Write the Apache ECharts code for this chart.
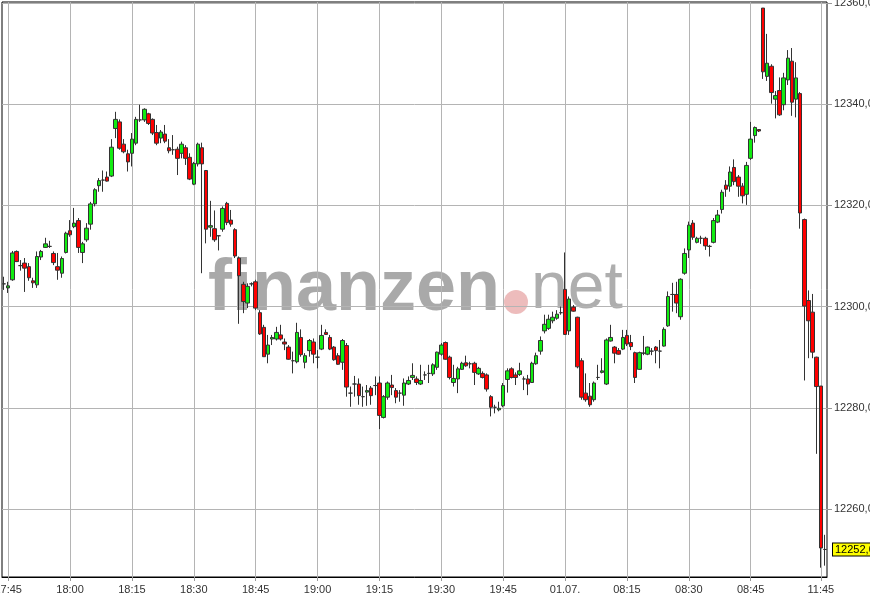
<!DOCTYPE html>
<html><head><meta charset="utf-8">
<script src="https://cdn.jsdelivr.net/npm/echarts@6/dist/echarts.min.js"></script>
<style>html,body{margin:0;padding:0;background:#fff}#c{width:870px;height:600px}</style>
</head><body><div id="c"></div>
<script>
// ---- data ----
const sessions = [['17:44', 136], ['08:00', 60], ['11:43', 4]];
const labelTimes = ['17:45','18:00','18:15','18:30','18:45','19:00','19:15','19:30','19:45','08:00','08:15','08:30','08:45','11:45'];
const labelText = {'08:00': '01.07.'};
const yTicks = [12260, 12280, 12300, 12320, 12340, 12360];
const lastPrice = 12252.0;

const opens = [
12304.5,12303.7,12305.3,12310.9,12308.1,12308.6,12307.9,12305.1,12304.3,12309.8,
12311.7,12311.9,12310.5,12307.9,12306.6,12310.7,12315.0,12315.8,12317.0,12310.7,
12313.2,12316.3,12320.3,12323.9,12325.0,12325.6,12325.8,12335.2,12336.5,12332.1,
12330.2,12330.3,12332.3,12336.9,12336.9,12338.1,12337.0,12334.4,12333.3,12334.1,
12331.4,12331.0,12331.1,12330.3,12331.4,12329.5,12324.2,12328.2,12331.4,12326.9,
12315.7,12315.4,12314.0,12315.3,12320.4,12317.1,12315.2,12309.6,12304.4,12300.7,
12304.5,12304.9,12298.8,12295.9,12290.6,12293.6,12293.6,12294.4,12293.0,12292.0,
12289.3,12289.1,12293.9,12289.0,12291.3,12293.0,12290.0,12291.6,12294.9,12293.9,
12292.0,12290.3,12289.0,12292.3,12282.9,12284.7,12284.7,12282.2,12283.1,12283.9,
12284.4,12284.9,12278.1,12282.1,12284.5,12283.4,12282.9,12282.5,12284.7,12286.0,
12285.7,12284.7,12286.5,12286.8,12286.7,12288.0,12290.6,12292.9,12290.0,12285.0,
12285.7,12287.6,12288.9,12288.7,12288.8,12286.7,12286.8,12286.5,12282.2,12280.1,
12279.6,12280.4,12285.6,12287.7,12286.5,12286.6,12285.7,12285.7,12285.0,12288.7,
12291.2,12295.2,12295.7,12297.2,12297.7,12298.8,12303.4,12295.2,12299.9,12297.9,
12289.3,12282.9,12282.3,12281.6,12286.0,12287.0,12284.7,12293.2,12292.0,12291.3,
12291.6,12294.3,12292.9,12290.9,12287.6,12290.8,12290.6,12291.2,12292.0,12291.2,
12292.2,12296.2,12302.4,12302.4,12298.0,12306.6,12311.2,12316.5,12312.7,12313.5,
12313.5,12311.9,12312.7,12316.7,12319.2,12324.0,12323.8,12327.5,12325.6,12323.8,
12322.2,12329.3,12333.8,12335.0,12359.0,12345.5,12347.5,12341.0,12342.7,12339.9,
12344.8,12348.5,12341.0,12342.1,12317.2,12301.2,12298.9,12290.0,12284.3,12252.0];

const closes = [
12304.5,12304.1,12310.6,12308.9,12308.1,12307.6,12305.7,12304.7,12309.9,12310.9,
12312.4,12311.9,12308.7,12307.2,12309.5,12314.5,12314.2,12316.5,12311.7,12312.4,
12315.5,12320.3,12323.1,12324.9,12325.0,12324.8,12331.5,12337.0,12331.3,12330.6,
12328.6,12333.1,12337.0,12336.9,12339.0,12336.2,12334.3,12332.3,12334.5,12332.7,
12330.8,12331.0,12329.3,12332.1,12329.3,12325.2,12328.3,12332.1,12328.2,12315.3,
12316.0,12313.2,12314.0,12319.4,12316.6,12316.3,12310.0,12306.1,12301.0,12304.0,
12304.5,12299.7,12294.6,12290.1,12292.4,12293.9,12294.9,12293.6,12292.6,12289.6,
12289.3,12294.9,12290.5,12290.3,12293.3,12290.6,12290.0,12294.3,12294.5,12291.6,
12289.5,12288.6,12293.3,12284.1,12282.9,12284.7,12282.4,12282.2,12283.4,12282.4,
12284.4,12278.5,12282.2,12284.9,12284.0,12282.1,12282.9,12284.9,12285.4,12286.4,
12285.0,12285.4,12286.5,12286.8,12288.5,12291.0,12292.4,12289.6,12286.0,12285.8,
12287.7,12288.8,12288.3,12288.7,12287.0,12287.8,12286.0,12283.7,12280.1,12280.1,
12279.9,12284.4,12287.3,12286.0,12286.0,12287.3,12285.7,12284.7,12288.8,12290.3,
12293.3,12296.5,12297.5,12297.9,12298.5,12298.8,12294.5,12301.5,12299.1,12288.1,
12282.1,12281.6,12280.6,12284.9,12286.0,12287.3,12293.4,12293.9,12290.8,12290.6,
12293.9,12292.6,12292.1,12286.0,12290.9,12290.8,12292.0,12291.2,12291.3,12291.2,
12295.5,12302.0,12302.4,12300.7,12305.4,12310.5,12316.1,12313.7,12313.5,12313.5,
12312.0,12311.9,12317.0,12318.1,12322.6,12323.2,12326.6,12324.7,12323.8,12321.9,
12327.9,12333.1,12335.4,12334.7,12346.4,12348.1,12342.3,12341.7,12337.9,12345.2,
12349.1,12340.4,12345.2,12318.5,12300.1,12297.2,12291.0,12284.2,12252.3,12252.0];

const lows = [
12303.3,12302.7,12305.1,12308.8,12307.1,12302.9,12305.1,12303.7,12303.7,12309.2,
12311.6,12311.6,12308.2,12305.3,12305.7,12310.5,12313.8,12315.5,12310.6,12308.6,
12312.8,12315.2,12319.8,12322.7,12322.7,12324.7,12325.6,12333.3,12331.0,12330.3,
12326.7,12327.7,12331.9,12336.5,12336.5,12335.9,12333.9,12331.9,12332.3,12332.3,
12330.3,12330.0,12326.0,12329.3,12328.0,12325.0,12324.0,12327.7,12306.6,12312.5,
12313.8,12312.8,12311.1,12314.8,12316.1,12315.8,12309.6,12296.6,12298.7,12299.7,
12304.0,12299.3,12294.4,12290.1,12288.8,12292.4,12293.3,12293.3,12291.4,12289.5,
12286.8,12288.8,12290.1,12287.8,12290.1,12288.8,12287.8,12291.4,12294.4,12291.4,
12289.3,12288.5,12287.5,12282.2,12280.2,12282.2,12280.6,12280.2,12280.4,12280.6,
12282.5,12275.8,12277.9,12281.6,12282.5,12280.9,12281.2,12280.4,12284.5,12285.5,
12284.5,12284.5,12285.5,12284.9,12286.3,12287.5,12290.3,12289.5,12285.6,12284.2,
12282.9,12287.5,12288.1,12287.8,12284.5,12286.5,12285.8,12283.2,12278.3,12278.9,
12279.3,12280.1,12283.0,12285.8,12284.5,12286.3,12283.5,12282.5,12284.9,12288.5,
12290.5,12294.7,12295.4,12296.7,12297.4,12298.4,12294.4,12294.4,12299.0,12287.8,
12281.6,12281.2,12280.2,12281.2,12285.5,12286.8,12284.5,12293.1,12288.8,12290.5,
12291.4,12292.2,12291.4,12284.9,12287.5,12290.4,12290.4,12290.4,12288.8,12287.8,
12292.1,12296.0,12299.0,12298.7,12297.4,12306.3,12309.6,12313.2,12312.5,12312.4,
12311.2,12309.9,12312.5,12316.5,12318.4,12321.7,12322.7,12324.0,12321.7,12320.4,
12320.1,12329.0,12332.4,12334.5,12345.0,12344.6,12340.1,12337.2,12337.7,12338.8,
12343.8,12337.7,12337.4,12315.4,12285.4,12289.8,12289.8,12270.9,12248.4,12248.8];

const highs = [
12305.9,12304.9,12311.0,12311.1,12309.2,12309.6,12308.6,12305.7,12310.9,12311.2,
12313.6,12313.0,12310.9,12310.6,12309.9,12314.8,12317.1,12319.5,12317.5,12312.8,
12316.5,12320.7,12323.4,12325.4,12326.9,12326.7,12333.1,12338.5,12337.0,12333.1,
12331.0,12334.3,12337.5,12339.9,12339.2,12338.3,12337.2,12335.9,12334.9,12335.9,
12333.1,12333.9,12331.6,12332.6,12331.9,12330.3,12328.6,12332.4,12332.4,12327.0,
12320.9,12319.0,12314.0,12319.8,12320.7,12319.1,12315.5,12309.9,12304.9,12304.6,
12304.8,12305.3,12299.3,12296.4,12294.4,12294.4,12296.0,12296.4,12293.7,12292.4,
12291.1,12296.8,12295.5,12290.8,12293.6,12293.7,12291.4,12296.4,12295.5,12294.4,
12292.2,12290.8,12293.6,12292.8,12284.2,12286.3,12285.8,12284.2,12284.5,12284.3,
12286.2,12286.2,12282.5,12285.2,12286.5,12283.9,12283.5,12285.8,12286.2,12288.8,
12286.2,12288.5,12287.2,12288.5,12288.8,12291.1,12292.8,12293.1,12290.3,12288.5,
12288.1,12289.1,12290.3,12289.1,12289.1,12288.1,12287.2,12286.8,12282.5,12280.6,
12281.2,12284.9,12287.8,12288.0,12287.0,12288.9,12286.2,12286.5,12289.1,12290.9,
12294.1,12298.4,12298.4,12299.0,12299.3,12300.0,12310.7,12302.0,12300.3,12298.0,
12289.8,12286.8,12284.9,12285.2,12288.5,12289.8,12293.7,12296.4,12292.2,12291.8,
12295.4,12295.4,12294.4,12291.1,12291.1,12294.2,12292.1,12291.8,12292.2,12293.4,
12295.9,12303.0,12304.7,12304.9,12305.6,12311.5,12316.8,12317.1,12313.8,12314.0,
12313.8,12312.2,12317.5,12319.1,12323.1,12325.0,12327.7,12329.1,12326.0,12324.4,
12328.6,12336.5,12335.6,12335.1,12359.0,12353.9,12347.9,12342.6,12345.3,12346.2,
12350.7,12351.1,12348.3,12342.4,12317.4,12303.2,12302.5,12290.1,12284.3,12254.9];

// ---- build ----
const categories = [];
sessions.forEach(([start, count]) => {
  let [h, m] = start.split(':').map(Number);
  for (let k = 0; k < count; k++) {
    categories.push(String(h).padStart(2, '0') + ':' + String(m).padStart(2, '0'));
    m++; if (m === 60) { m = 0; h = (h + 1) % 24; }
  }
});
const candleData = opens.map((o, i) => [o, closes[i], lows[i], highs[i]]);
const labelSet = new Set(labelTimes);
const FONT = "'Liberation Sans', Arial, sans-serif";
const GRID = '#b4b4b4';
const fmtY = v => Number(v).toFixed(1).replace('.', ',');

const gridLines = labelTimes.map(t => ({xAxis: t})).concat(yTicks.map(v => ({yAxis: v})));
const priceTag = {
  yAxis: lastPrice,
  lineStyle: {color: 'rgba(0,0,0,0)', width: 1},
  label: {show: true, position: 'end', distance: 6, formatter: () => fmtY(lastPrice),
          backgroundColor: '#ffff00', borderColor: '#000', borderWidth: 1, borderRadius: 0,
          color: '#000', fontFamily: FONT, fontSize: 11, padding: [1, 2, 0, 2]}
};

const chart = echarts.init(document.getElementById('c'), null, {renderer: 'canvas'});
chart.setOption({
  animation: false,
  backgroundColor: '#ffffff',
  grid: {left: 2, right: 43, top: 2, bottom: 23, show: true, borderColor: '#000', borderWidth: 1,
         backgroundColor: 'transparent', containLabel: false, outerBoundsMode: 'none'},
  xAxis: {
    type: 'category', data: categories, boundaryGap: true,
    axisLine: {show: true, lineStyle: {color: '#000', width: 1}},
    axisTick: {show: true, alignWithLabel: true, length: 4, interval: (i, v) => labelSet.has(v), lineStyle: {color: '#999'}},
    axisLabel: {interval: (i, v) => labelSet.has(v), formatter: v => labelText[v] || v, color: '#333', fontFamily: FONT, fontSize: 11, margin: 7},
    splitLine: {show: false}
  },
  yAxis: {
    type: 'value', position: 'right', min: 12246.56, max: 12360.2, scale: true,
    axisLine: {show: false},
    axisTick: {show: true, length: 5, customValues: yTicks, lineStyle: {color: '#999'}},
    axisLabel: {customValues: yTicks, formatter: fmtY, color: '#333', fontFamily: FONT, fontSize: 11, margin: 7},
    splitLine: {show: false}
  },
  graphic: [
    {type: 'text', z: 0, silent: true, style: {text: 'finanzen', x: 208, y: 290, font: 'bold 72px ' + FONT, fill: '#8c8c8c', opacity: 0.75, textAlign: 'left', textVerticalAlign: 'middle'}},
    {type: 'circle', z: 0, silent: true, shape: {cx: 516, cy: 302, r: 12}, style: {fill: '#d86a6a', opacity: 0.45}},
    {type: 'text', z: 0, silent: true, style: {text: 'net', x: 531, y: 290, font: '66px ' + FONT, fill: '#8c8c8c', opacity: 0.7, textAlign: 'left', textVerticalAlign: 'middle'}}
  ],
  series: [{
    type: 'candlestick', data: candleData, barWidth: 4, z: 3,
    itemStyle: {color: '#12ec12', color0: '#ff0000', borderColor: '#333333', borderColor0: '#333333', borderColorDoji: '#333333', borderWidth: 1},
    emphasis: {disabled: true},
    markLine: {
      silent: true, symbol: 'none', z: 1, animation: false,
      label: {show: false},
      lineStyle: {color: GRID, width: 1, type: 'solid'},
      emphasis: {disabled: true},
      data: gridLines.concat([priceTag])
    }
  }]
});
</script></body></html>
